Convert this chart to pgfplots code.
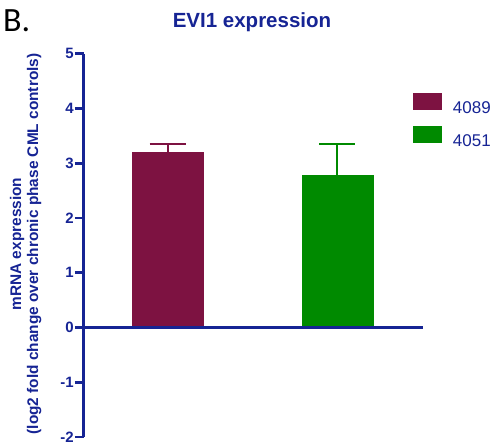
\documentclass[border=0pt]{standalone}
\usepackage{fontspec}
\setmainfont{Liberation Sans}
\newfontfamily\carlito{Carlito}
\usepackage{pgfplots}
\pgfplotsset{compat=1.18}
\definecolor{navy}{RGB}{22,36,148}
\definecolor{maroon}{RGB}{125,18,65}
\definecolor{leafgreen}{RGB}{0,138,0}

\begin{document}
\begin{tikzpicture}[x=1pt,y=1pt]
\useasboundingbox (0,0) rectangle (499,446);
% panel letter and title
\node[anchor=base west, inner sep=0pt, font=\carlito\fontsize{34}{34}\selectfont] at (3,414) {B.};
\node[anchor=base, inner sep=0pt, text=navy, font=\bfseries\fontsize{20.5}{20.5}\selectfont] at (252,418.7) {EVI1 expression};
% two-line y label
\node[rotate=90, anchor=base, inner sep=0pt, text=navy, font=\bfseries\fontsize{15.4}{15.4}\selectfont] at (21,202) {mRNA expression};
\node[rotate=90, anchor=base, inner sep=0pt, text=navy, font=\bfseries\fontsize{15.4}{15.4}\selectfont] at (38,202) {(log2 fold change over chronic phase CML controls)};
\begin{axis}[
  at={(83.5pt,9pt)}, anchor=south west,
  scale only axis, width=339.5pt, height=383.25pt,
  xmin=0.5053, xmax=2.5047, ymin=-2, ymax=5,
  axis x line=none, axis y line=left,
  axis line style={-, navy, line width=3pt},
  ytick={-2,-1,0,1,2,3,4,5},
  tick align=outside, major tick length=8.5pt,
  major tick style={navy, line width=2.8pt},
  /pgf/number format/assume math mode=true,
  yticklabel={\pgfmathprintnumber{\tick}},
  yticklabel style={font=\bfseries\fontsize{15}{15}\selectfont, text=navy, inner sep=1pt},
  clip=false,
  legend image code/.code={\fill[#1] (0pt,-1pt) rectangle (28pt,15pt);},
  legend cell align=left,
  legend style={draw=none, fill=none, at={(0.97054,0.89759)}, anchor=north west,
    inner sep=0pt, outer sep=0pt, row sep=11.5pt, column sep=0pt,
    font=\fontsize{17}{17}\selectfont, text=navy, nodes={inner sep=0pt},
    /tikz/every odd column/.append style={column sep=11.5pt}},
]
\addplot[ybar, bar width=71pt, fill=maroon, draw=maroon,
  error bars/.cd, y dir=plus, y explicit,
  error bar style={maroon, line width=2pt},
  error mark options={rotate=90, maroon, line width=2.3pt, mark size=18pt}]
  coordinates {(1,3.20) +- (0,0.15)};
\addlegendentry{4089}
\addplot[ybar, bar width=71pt, fill=leafgreen, draw=leafgreen,
  error bars/.cd, y dir=plus, y explicit,
  error bar style={leafgreen, line width=2pt},
  error mark options={rotate=90, leafgreen, line width=2.3pt, mark size=18pt}]
  coordinates {(2,2.78) +- (0,0.57)};
\addlegendentry{4051}
% zero line
\addplot[navy, line width=3.3pt, forget plot] coordinates {(0.5053,0) (2.5047,0)};
\end{axis}
\end{tikzpicture}
\end{document}
